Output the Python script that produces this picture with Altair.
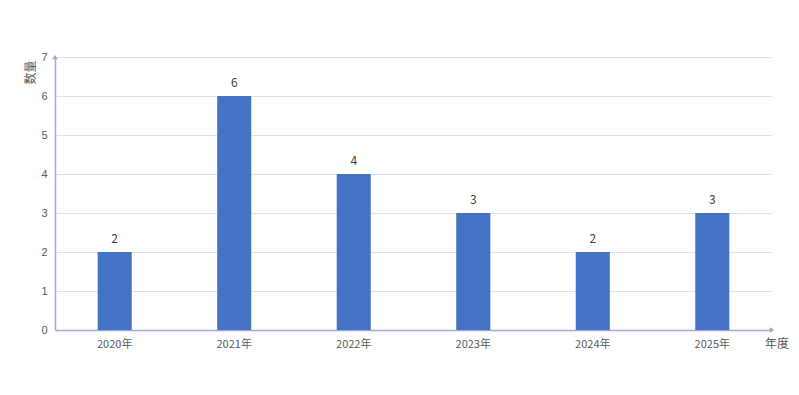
import altair as alt
import pandas as pd

years = ["2020年", "2021年", "2022年", "2023年", "2024年", "2025年"]
counts = [2, 6, 4, 3, 2, 3]
y_ticks = [0, 1, 2, 3, 4, 5, 6, 7]

df = pd.DataFrame({"year": years, "count": counts})

AXIS = "#9ea9d4"
W, H = 717, 273

x_axis = alt.Axis(labelAngle=0, labelColor="#595959", labelFontSize=11,
                  labelPadding=8, ticks=False, domainColor=AXIS, domainWidth=1.5,
                  labelFont="Microsoft YaHei, Noto Sans CJK SC, sans-serif")
y_axis = alt.Axis(values=y_ticks, labelColor="#595959", labelFontSize=11,
                  labelPadding=8, ticks=False, domainColor=AXIS, domainWidth=1.5,
                  gridColor="#dde3ee", gridWidth=1,
                  titleColor="#595959", titleFontSize=12, titleFontWeight="normal",
                  titleFont="Noto Sans CJK SC", titleX=-25, titleY=15,
                  titleAngle=270, titleAlign="center", titleBaseline="middle")
x_scale = alt.Scale(paddingInner=0.715, paddingOuter=0.357)
y_scale = alt.Scale(domain=[0, 7], nice=False)

x = alt.X("year:N", sort=years, title=None, scale=x_scale, axis=x_axis)
y = alt.Y("count:Q", title="数量", scale=y_scale, axis=y_axis)

bars = alt.Chart(df).mark_bar(color="#4472C4").encode(x=x, y=y)
labels = alt.Chart(df).mark_text(dy=-13, fontSize=12, color="#404040",
                                 font="Noto Sans CJK SC").encode(
    x=x, y=y, text="count:Q")

arrow_y = alt.Chart(pd.DataFrame({"count": [7]})).mark_point(
    shape="triangle-up", filled=True, size=30, color=AXIS, opacity=1).encode(
    x=alt.value(0), y=y)
arrow_x = alt.Chart(pd.DataFrame({"count": [0]})).mark_point(
    shape="triangle-right", filled=True, size=30, color=AXIS, opacity=1).encode(
    x=alt.value(W), y=y)
xtitle = alt.Chart(pd.DataFrame({"t": ["年度"]})).mark_text(
    fontSize=12, color="#595959", font="Noto Sans CJK SC", align="center").encode(
    x=alt.value(W + 5), y=alt.value(H + 14), text="t:N")

chart = alt.layer(bars, labels, arrow_y, arrow_x, xtitle).properties(
    width=W, height=H,
    autosize=alt.AutoSizeParams(type="none"),
    padding={"left": 47, "top": 49, "right": 19, "bottom": 57},
    background="white",
).configure_view(stroke=None)

chart.save("out.html", embed_options={"renderer": "svg", "actions": False})
